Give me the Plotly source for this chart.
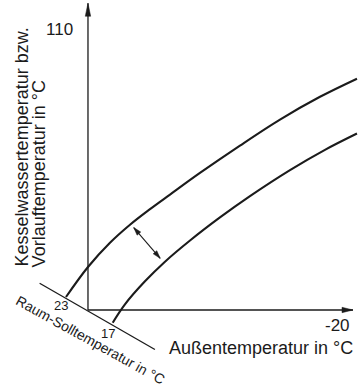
import math
import plotly.graph_objects as go

# Heating curves: outside temperature (°C) vs. boiler / flow temperature (°C)
curve_hi_out = [23.32, 20.00, 16.68, 13.66, 10.64, 7.62, 3.10, -2.94, -8.98, -15.02, -20.60]
curve_hi_flow = [24.18, 33.82, 41.60, 47.39, 52.40, 57.09, 64.04, 72.84, 81.20, 88.53, 94.35]
curve_lo_out = [16.27, 14.42, 11.40, 8.38, 4.60, 0.08, -4.45, -10.49, -15.77, -20.60]
curve_lo_flow = [15.92, 21.83, 29.22, 35.53, 42.34, 49.76, 56.61, 64.97, 71.49, 76.73]

# Oblique room set-point scale
room_axis_out = [27.3, 9.9]
room_axis_flow = [28.6, 7.3]
room_labels = ["23", "17"]
room_label_out = [24.0, 17.0]
room_label_flow = [21.6, 12.6]

# Parallel-shift arrow between the two curves
shift_out = [13.1, 9.1]
shift_flow = [46.5, 36.6]

# Main axes
origin_out, origin_flow = 20.0, 20.0
x_axis_end = -20.0
y_axis_end = 118.6
y_tick_val, y_tick_text = 110, "110"
x_tick_val, x_tick_text = -20, "-20"

X_RANGE = [33.28, -20.906]
Y_RANGE = [-6.04, 119.64]
W, H = 359, 391
KX = W / (X_RANGE[0] - X_RANGE[1])   # px per °C (x reversed)
KY = H / (Y_RANGE[1] - Y_RANGE[0])   # px per °C

FONT = "Liberation Sans, Arial, sans-serif"
INK = "#1b1b1b"

fig = go.Figure()

for xs, ys in [(curve_hi_out, curve_hi_flow), (curve_lo_out, curve_lo_flow)]:
    fig.add_trace(go.Scatter(x=xs, y=ys, mode="lines",
                             line=dict(color=INK, width=2.1, shape="spline", smoothing=1.0),
                             hoverinfo="skip", showlegend=False))

shapes = []


def seg(x0, y0, x1, y1, w=1.3):
    shapes.append(dict(type="line", xref="x", yref="y", x0=x0, y0=y0, x1=x1, y1=y1,
                       line=dict(color=INK, width=w)))


def head(tx, ty, dx_px, dy_px, length, half):
    """Filled arrowhead with its tip at (tx, ty), pointing along (dx_px, dy_px) in pixels (y up)."""
    n = math.hypot(dx_px, dy_px)
    ux, uy = dx_px / n, dy_px / n
    px, py = -uy, ux
    bx, by = -ux * length, -uy * length
    path = (f"M0,0 L{bx + px * half:.2f},{by + py * half:.2f} "
            f"L{bx - px * half:.2f},{by - py * half:.2f} Z")
    shapes.append(dict(type="path", xref="x", yref="y", xsizemode="pixel", ysizemode="pixel",
                       xanchor=tx, yanchor=ty, path=path, fillcolor=INK,
                       line=dict(color=INK, width=0.5)))


# axes with arrow tips
seg(origin_out, origin_flow, origin_out, y_axis_end)
seg(origin_out, origin_flow, x_axis_end, origin_flow)
head(origin_out, y_axis_end, 0, 1, 13, 2.7)
head(x_axis_end, origin_flow, 1, 0, 11, 2.7)

# room set-point scale
seg(room_axis_out[0], room_axis_flow[0], room_axis_out[1], room_axis_flow[1])

# double arrow
seg(shift_out[0], shift_flow[0], shift_out[1], shift_flow[1], w=1.1)
ddx = -(shift_out[1] - shift_out[0]) * KX
ddy = (shift_flow[1] - shift_flow[0]) * KY
head(shift_out[1], shift_flow[1], ddx, ddy, 8, 2.4)
head(shift_out[0], shift_flow[0], -ddx, -ddy, 8, 2.4)

ann = []


def text(s, x, y, size, xanchor="center", yanchor="middle", angle=0):
    ann.append(dict(text=s, x=x, y=y, xref="x", yref="y", showarrow=False,
                    xanchor=xanchor, yanchor=yanchor, textangle=angle,
                    font=dict(family=FONT, size=size, color=INK)))


text(y_tick_text, 21.96, y_tick_val, 17, xanchor="right")
text(x_tick_text, -19.85, 14.9, 17, xanchor="right")
text("Außentemperatur in °C", -20.3, 7.8, 18, xanchor="right")
text("Kesselwassertemperatur bzw.", 29.96, 33.2, 18, yanchor="bottom", angle=-90)
text("Vorlauftemperatur in °C", 27.40, 33.2, 18, yanchor="bottom", angle=-90)
text("Raum-Solltemperatur in °C", 19.6, 10.5, 14, angle=29)
for lab, lx, ly in zip(room_labels, room_label_out, room_label_flow):
    text(lab, lx, ly, 13)

fig.update_layout(
    width=W, height=H, margin=dict(l=0, r=0, t=0, b=0),
    paper_bgcolor="white", plot_bgcolor="white",
    xaxis=dict(range=X_RANGE, visible=False, fixedrange=True),
    yaxis=dict(range=Y_RANGE, visible=False, fixedrange=True),
    shapes=shapes, annotations=ann, showlegend=False,
)

fig.write_html("out.html")
